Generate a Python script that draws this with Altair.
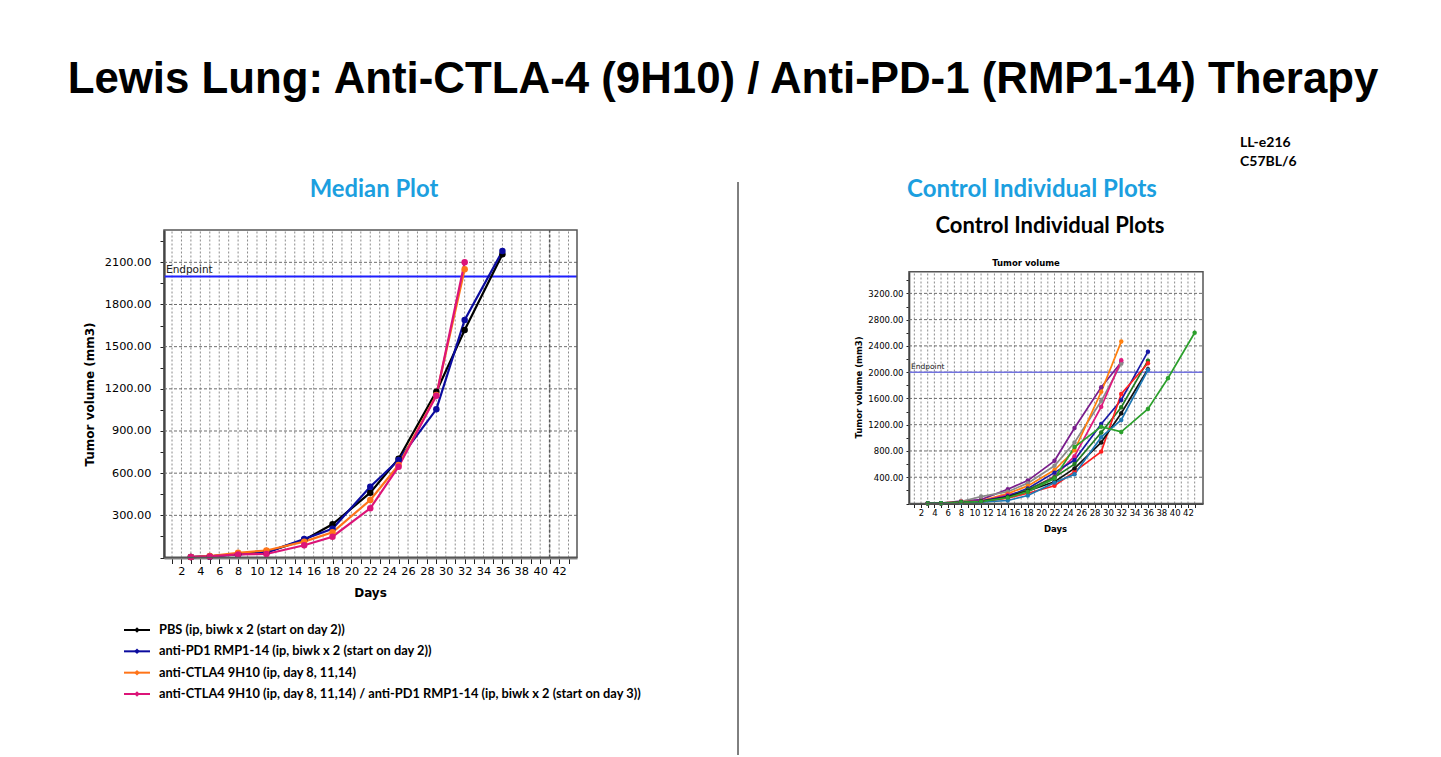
import altair as alt
import pandas as pd

# ---------------- median tumour volume per treatment group ----------------
GROUPS = [
    "PBS (ip, biwk x 2 (start on day 2))",
    "anti-PD1 RMP1-14 (ip, biwk x 2 (start on day 2))",
    "anti-CTLA4 9H10 (ip, day 8, 11,14)",
    "anti-CTLA4 9H10 (ip, day 8, 11,14) / anti-PD1 RMP1-14 (ip, biwk x 2 (start on day 3))",
]
GROUP_COLORS = ["#000000", "#0b0b9e", "#ff7418", "#dc1478"]

MEDIAN_DAYS = [3, 5, 8, 11, 15, 18, 22, 25, 29, 32, 36]
PBS = [3, 8, 25, 38, 124, 236, 461, 703, 1180, 1618, 2158]
PD1 = [3, 8, 22, 35, 132, 205, 504, 694, 1054, 1690, 2180]
CTLA4 = [3, 10, 34, 50, 113, 179, 409, 658, 1156, 2050]
COMBO = [4, 8, 22, 25, 87, 148, 350, 646, 1151, 2100]

# ---------------- individual control (PBS) mice ----------------
MOUSE_DAYS = [3, 5, 8, 11, 15, 18, 22, 25, 29, 32, 36, 39, 43]
MOUSE_1 = [3, 5, 35, 60, 218, 349, 650, 1150, 1770, 2150]
MOUSE_2 = [3, 5, 30, 105, 180, 310, 575, 930, 1560, 2130]
MOUSE_3 = [2, 5, 25, 40, 150, 268, 510, 810, 1700, 2466]
MOUSE_4 = [2, 4, 22, 35, 132, 200, 410, 720, 1473, 2180]
MOUSE_5 = [2, 4, 20, 35, 110, 230, 470, 662, 1210, 1577, 2312]
MOUSE_6 = [2, 4, 20, 30, 95, 210, 400, 600, 1080, 1466, 2175]
MOUSE_7 = [2, 4, 15, 25, 80, 156, 270, 486, 790, 1668, 2135]
MOUSE_8 = [2, 4, 18, 30, 100, 190, 330, 535, 930, 1374, 2044]
MOUSE_9 = [2, 4, 12, 20, 46, 121, 318, 445, 1010, 1272, 2033]
MOUSE_10 = [2, 4, 18, 28, 90, 180, 380, 860, 1170, 1090, 1440, 1907, 2601]
MICE = ["Mouse 1", "Mouse 2", "Mouse 3", "Mouse 4", "Mouse 5",
        "Mouse 6", "Mouse 7", "Mouse 8", "Mouse 9", "Mouse 10"]
MOUSE_SERIES = [MOUSE_1, MOUSE_2, MOUSE_3, MOUSE_4, MOUSE_5,
                MOUSE_6, MOUSE_7, MOUSE_8, MOUSE_9, MOUSE_10]
MOUSE_COLORS = ["#7a1e8c", "#8a8a8a", "#ff7f0e", "#e0197d", "#1a1aa6",
                "#217a21", "#ff1f1f", "#111111", "#1f78b4", "#2ca02c"]

ENDPOINT = 2000
GRID_DAYS = list(range(1, 44))
LEFT_YGRID = [300, 600, 900, 1200, 1500, 1800, 2100]
RIGHT_YGRID = [400, 800, 1200, 1600, 2000, 2400, 2800, 3200]
LEFT_MARKER_DAYS = [41]   # darker day line on the median plot

median_df = pd.DataFrame(
    [{"group": g, "day": d, "vol": v}
     for g, vals in zip(GROUPS, [PBS, PD1, CTLA4, COMBO])
     for d, v in zip(MEDIAN_DAYS, vals)]
)
mice_df = pd.DataFrame(
    [{"mouse": m, "day": d, "vol": v}
     for m, vals in zip(MICE, MOUSE_SERIES)
     for d, v in zip(MOUSE_DAYS, vals)]
)
ONE = pd.DataFrame({"_": [0]})

AXIS_FONT = "DejaVu Sans"
HEAD_FONT = "Lato"

# ---------------- scales (each panel lives in its own pixel window) -------
LX0, LX1, LY1 = 0.15, 43.9, 2330
RX0, RX1, RY1 = 0.2, 44.25, 3530
xL = alt.Scale(domain=[LX0, LX1], range=[164, 577], nice=False, zero=False)
yL = alt.Scale(domain=[0, LY1], range=[557.5, 230], nice=False)
xR = alt.Scale(domain=[RX0, RX1], range=[909, 1203], nice=False, zero=False)
yR = alt.Scale(domain=[0, RY1], range=[503.5, 271.7], nice=False)

even_label = "datum.value % 2 === 0 ? datum.value : ''"

axLx = alt.Axis(
    orient="bottom", offset=-199.5, values=GRID_DAYS, labelExpr=even_label,
    grid=False, tickSize=6, tickColor="#222", labelPadding=2,
    labelFont=AXIS_FONT, labelFontSize=11.3, labelColor="#000",
    domainColor="#8a8a8a", domainWidth=3,
    title="Days", titleFont=AXIS_FONT, titleFontSize=12, titleFontWeight="bold",
    titleX=370, titleY=35, titleBaseline="middle", titleAlign="center",
)
axLy = alt.Axis(
    orient="left", offset=-164, values=list(range(0, 2251, 150)),
    labelExpr="datum.value % 300 === 0 && datum.value > 0 ? format(datum.value, '.2f') : ''",
    grid=False, tickSize=4, tickColor="#222", labelPadding=9,
    labelFont=AXIS_FONT, labelFontSize=11.3, labelColor="#000",
    domainColor="#111", domainWidth=2,
    title="Tumor volume (mm3)", titleFont=AXIS_FONT, titleFontSize=12,
    titleFontWeight="bold", titleAngle=270, titleX=-75, titleY=394,
    titleBaseline="middle", titleAlign="center",
)
axRx = alt.Axis(
    orient="bottom", offset=-253.5, values=GRID_DAYS, labelExpr=even_label,
    grid=False, tickSize=4, tickColor="#222", labelPadding=1,
    labelFont=AXIS_FONT, labelFontSize=8.5, labelColor="#000",
    domainColor="#444", domainWidth=2,
    title="Days", titleFont=AXIS_FONT, titleFontSize=8.5, titleFontWeight="bold",
    titleX=1055, titleY=24.5, titleBaseline="middle", titleAlign="center",
)
axRy = alt.Axis(
    orient="left", offset=-909, values=list(range(0, 3401, 200)),
    labelExpr="datum.value % 400 === 0 && datum.value > 0 ? format(datum.value, '.2f') : ''",
    grid=False, tickSize=3, tickColor="#222", labelPadding=3,
    labelFont=AXIS_FONT, labelFontSize=8.5, labelColor="#000",
    domainColor="#111", domainWidth=1.5,
    title="Tumor volume (mm3)", titleFont=AXIS_FONT, titleFontSize=8.5,
    titleFontWeight="bold", titleAngle=270, titleX=-51, titleY=387,
    titleBaseline="middle", titleAlign="center",
)


def panel(xs, ys, x0, x1, y1, ygrid, marker_days, data, series, domain, colors,
          ax_x, ax_y, pt_size, line_w, end_color, end_w, end_font):
    vgrid = alt.Chart(pd.DataFrame({"day": GRID_DAYS})).mark_rule(
        color="#8c8c8c", strokeDash=[2, 2], strokeWidth=1
    ).encode(
        x=alt.X("day:Q", scale=xs, axis=ax_x),
        y=alt.YDatum(0, scale=ys, axis=ax_y),
        y2=alt.Y2Datum(y1),
    )
    marker = alt.Chart(pd.DataFrame({"day": marker_days})).mark_rule(
        color="#5a5a5a", strokeDash=[3, 2], strokeWidth=1.5
    ).encode(
        x=alt.X("day:Q", scale=xs, axis=ax_x),
        y=alt.YDatum(0, scale=ys, axis=ax_y),
        y2=alt.Y2Datum(y1),
    )
    hgrid = alt.Chart(pd.DataFrame({"vol": ygrid})).mark_rule(
        color="#6e6e6e", strokeDash=[3, 2], strokeWidth=1
    ).encode(
        x=alt.XDatum(x0, scale=xs, axis=ax_x),
        x2=alt.X2Datum(x1),
        y=alt.Y("vol:Q", scale=ys, axis=ax_y),
    )
    frame = alt.Chart(ONE).mark_rect(fill=None, stroke="#555", strokeWidth=1.5).encode(
        x=alt.XDatum(x0, scale=xs, axis=ax_x),
        x2=alt.X2Datum(x1),
        y=alt.YDatum(0, scale=ys, axis=ax_y),
        y2=alt.Y2Datum(y1),
    )
    end_rule = alt.Chart(ONE).mark_rule(color=end_color, strokeWidth=end_w).encode(
        x=alt.XDatum(x0, scale=xs, axis=ax_x),
        x2=alt.X2Datum(x1),
        y=alt.YDatum(ENDPOINT, scale=ys, axis=ax_y),
    )
    end_text = alt.Chart(ONE).mark_text(
        text="Endpoint", align="left", baseline="bottom", dx=2, dy=-1,
        font=AXIS_FONT, fontSize=end_font, color="#222",
    ).encode(
        x=alt.XDatum(x0, scale=xs, axis=ax_x),
        y=alt.YDatum(ENDPOINT, scale=ys, axis=ax_y),
    )
    lines = alt.Chart(data).mark_line(
        strokeWidth=line_w,
        point=alt.OverlayMarkDef(filled=True, size=pt_size, opacity=1),
    ).encode(
        x=alt.X("day:Q", scale=xs, axis=ax_x),
        y=alt.Y("vol:Q", scale=ys, axis=ax_y),
        color=alt.Color(f"{series}:N", scale=alt.Scale(domain=domain, range=colors),
                        legend=None),
    )
    layers = [vgrid, hgrid]
    if marker_days:
        layers.append(marker)
    layers += [end_rule, end_text, lines, frame]
    return alt.layer(*layers)


left = panel(xL, yL, LX0, LX1, LY1, LEFT_YGRID, LEFT_MARKER_DAYS, median_df, "group",
             GROUPS, GROUP_COLORS, axLx, axLy, 42, 2.2, "#1f1fff", 2, 10.5)
right = panel(xR, yR, RX0, RX1, RY1, RIGHT_YGRID, [], mice_df, "mouse", MICE,
              MOUSE_COLORS, axRx, axRy, 20, 1.7, "#7373e0", 1.5, 7.5)

# ---------------- legend for the median plot ----------------
leg_df = pd.DataFrame({"group": GROUPS})
leg_y = alt.Y("group:N", scale=alt.Scale(type="point", domain=GROUPS,
                                          range=[630, 694], padding=0), axis=None)
leg_color = alt.Color("group:N", scale=alt.Scale(domain=GROUPS, range=GROUP_COLORS),
                      legend=None)
legend = alt.layer(
    alt.Chart(leg_df).mark_rule(strokeWidth=2).encode(
        x=alt.value(124), x2=alt.value(150), y=leg_y, color=leg_color),
    alt.Chart(leg_df).mark_point(shape="diamond", filled=True, size=30, opacity=1).encode(
        x=alt.value(137), y=leg_y, color=leg_color),
    alt.Chart(leg_df).mark_text(align="left", baseline="middle", font=HEAD_FONT,
                                fontSize=12.8, fontWeight="bold", color="#000").encode(
        x=alt.value(159), y=leg_y, text="group:N"),
)


def label(text, x, y, **kw):
    return alt.Chart(ONE).mark_text(text=text, **kw).encode(
        x=alt.value(x), y=alt.value(y))


headings = alt.layer(
    label("Lewis Lung: Anti-CTLA-4 (9H10) / Anti-PD-1 (RMP1-14) Therapy", 723, 93,
          font="Liberation Sans", fontSize=43.8, fontWeight="bold",
          align="center", baseline="alphabetic", color="#000"),
    label("LL-e216", 1240, 143, font=HEAD_FONT, fontSize=14, fontWeight="bold",
          align="left", baseline="middle", color="#000"),
    label("C57BL/6", 1240, 162, font=HEAD_FONT, fontSize=14, fontWeight="bold",
          align="left", baseline="middle", color="#000"),
    label("Median Plot", 374, 190, font=HEAD_FONT, fontSize=23.8, fontWeight="bold",
          align="center", baseline="middle", color="#1c9fdf"),
    label("Control Individual Plots", 1032, 190, font=HEAD_FONT, fontSize=24,
          fontWeight="bold", align="center", baseline="middle", color="#1c9fdf"),
    label("Control Individual Plots", 1050, 226, font=HEAD_FONT, fontSize=22,
          fontWeight="bold", align="center", baseline="middle", color="#000"),
    label("Tumor volume", 1026, 263, font=AXIS_FONT, fontSize=8.5,
          fontWeight="bold", align="center", baseline="middle", color="#000"),
    alt.Chart(ONE).mark_rule(color="#000", strokeWidth=1).encode(
        x=alt.value(738), y=alt.value(182), y2=alt.value(755)),
)

chart = alt.layer(headings, left, right, legend).resolve_scale(
    x="independent", y="independent", color="independent"
).properties(
    width=1441, height=757, padding=0,
    autosize=alt.AutoSizeParams(type="none"),
    background="#ffffff",
).configure_view(stroke=None)

chart.save("out.html", embed_options={"renderer": "svg", "actions": False})
